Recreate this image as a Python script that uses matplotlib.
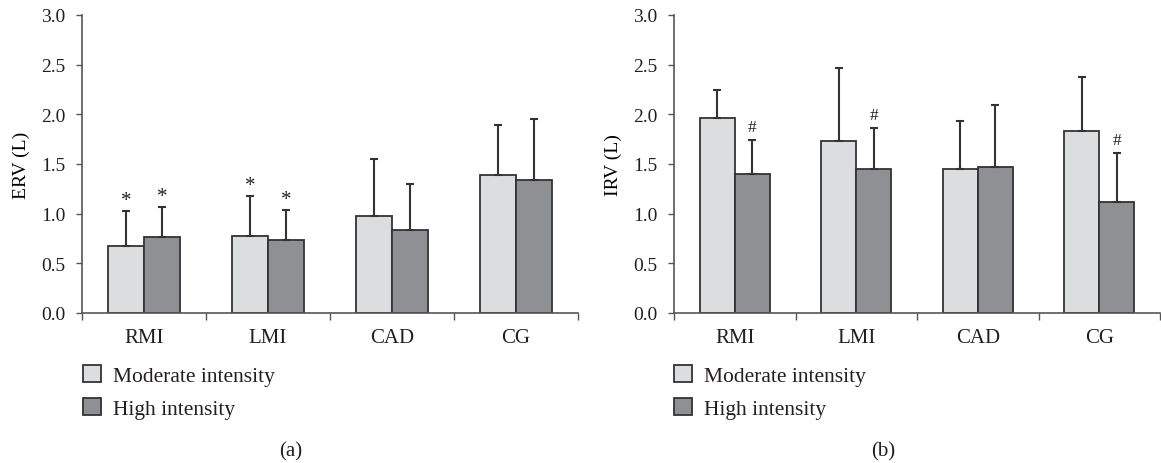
import matplotlib
matplotlib.use("Agg")
import matplotlib.pyplot as plt
from matplotlib.patches import Patch

# Daten
groups = ["RMI", "LMI", "CAD", "CG"]
series = ["Moderate intensity", "High intensity"]

erv_mod = [0.67, 0.78, 0.98, 1.39]
erv_mod_sd = [0.36, 0.40, 0.57, 0.50]
erv_high = [0.77, 0.73, 0.84, 1.34]
erv_high_sd = [0.30, 0.31, 0.46, 0.61]
erv_mod_mark = ["*", "*", "", ""]
erv_high_mark = ["*", "*", "", ""]

irv_mod = [1.96, 1.73, 1.45, 1.83]
irv_mod_sd = [0.28, 0.74, 0.48, 0.55]
irv_high = [1.40, 1.45, 1.47, 1.12]
irv_high_sd = [0.34, 0.41, 0.62, 0.49]
irv_mod_mark = ["", "", "", ""]
irv_high_mark = ["#", "#", "", "#"]

c_mod = "#dcdddf"
c_high = "#8f9093"
c_edge = "#333333"
c_text = "#231f20"
c_axis = "#555555"

plt.rcParams["font.family"] = ["Liberation Serif", "DejaVu Serif"]
plt.rcParams["text.color"] = c_text

W, H = 1161, 464
fig = plt.figure(figsize=(W / 100, H / 100), dpi=100)

bw = 0.29


def panel(rect, mod, mod_sd, high, high_sd, mod_mark, high_mark, ylabel, ylab_x, caption, cap_x, leg_x):
    ax = fig.add_axes(rect)
    x = [i + 0.5 for i in range(len(groups))]
    xm = [v - bw / 2 for v in x]
    xh = [v + bw / 2 for v in x]
    ekw = dict(ecolor=c_edge, elinewidth=1.5, capsize=3, capthick=1.5)
    ax.bar(xm, mod, bw, color=c_mod, edgecolor=c_edge, linewidth=1.3,
           yerr=[[0] * len(mod), mod_sd], error_kw=ekw, zorder=2)
    ax.bar(xh, high, bw, color=c_high, edgecolor=c_edge, linewidth=1.3,
           yerr=[[0] * len(high), high_sd], error_kw=ekw, zorder=2)
    # Signifikanzzeichen über den Fehlerbalken
    for xs, vals, sds, marks in [(xm, mod, mod_sd, mod_mark), (xh, high, high_sd, high_mark)]:
        for xi, v, s, m in zip(xs, vals, sds, marks):
            if m:
                off = 0.1 if m == "*" else 0.13
                ax.text(xi, v + s + off, m, ha="center", va="center",
                        fontsize=15 if m == "*" else 12.5, color=c_text)

    ax.set_xlim(0, 4)
    ax.set_ylim(0, 3)
    ax.set_yticks([0, 0.5, 1, 1.5, 2, 2.5, 3])
    ax.set_yticklabels(["0.0", "0.5", "1.0", "1.5", "2.0", "2.5", "3.0"])
    ax.set_xticks([0, 1, 2, 3, 4])
    ax.set_xticklabels([])
    ax.set_xticks(x, minor=True)
    ax.set_xticklabels(groups, minor=True)
    ax.tick_params(axis="x", which="major", length=5, width=1, color=c_axis)
    ax.tick_params(axis="x", which="minor", length=0, pad=11, labelsize=15, labelcolor=c_text)
    ax.tick_params(axis="y", length=4, width=1, color=c_axis, pad=8, labelsize=14, labelcolor=c_text)
    for s in ["top", "right"]:
        ax.spines[s].set_visible(False)
    for s in ["left", "bottom"]:
        ax.spines[s].set_color(c_axis)
        ax.spines[s].set_linewidth(1.2)
    ax.set_ylabel(ylabel, fontsize=14)
    ax.yaxis.set_label_coords(ylab_x, 0.5)

    handles = [Patch(facecolor=c_mod, edgecolor=c_edge, linewidth=1.3),
               Patch(facecolor=c_high, edgecolor=c_edge, linewidth=1.3)]
    fig.legend(handles, series, loc="upper left", bbox_to_anchor=(leg_x, 1 - 366 / H),
               frameon=False, fontsize=15.5, handlelength=0.85, handleheight=0.85,
               handletextpad=0.55, labelspacing=0.55, borderpad=0, borderaxespad=0)
    fig.text(cap_x, 1 - 452 / H, caption, ha="center", va="center", fontsize=15)
    return ax


panel([82 / W, 1 - 314 / H, 496 / W, 298 / H], erv_mod, erv_mod_sd, erv_high, erv_high_sd,
      erv_mod_mark, erv_high_mark, "ERV (L)", -0.105, "(a)", 291 / W, 83 / W)
panel([674 / W, 1 - 314 / H, 486 / W, 298 / H], irv_mod, irv_mod_sd, irv_high, irv_high_sd,
      irv_mod_mark, irv_high_mark, "IRV (L)", -0.107, "(b)", 883 / W, 674 / W)

fig.savefig("out.png", dpi=100)
